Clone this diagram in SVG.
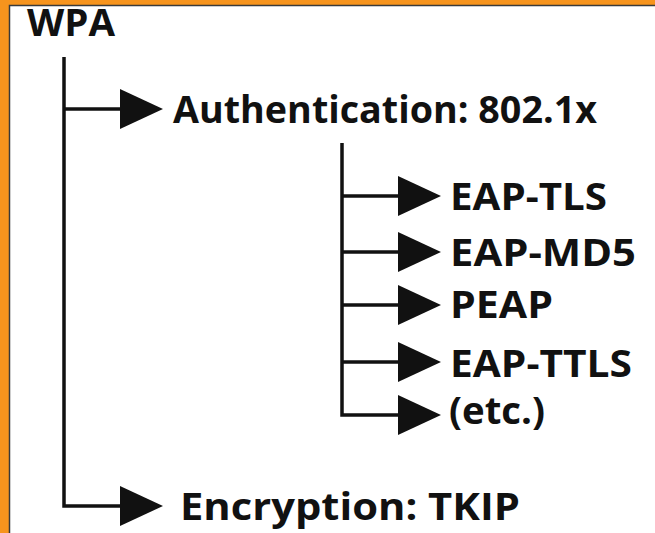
<svg xmlns="http://www.w3.org/2000/svg" width="655" height="533" viewBox="0 0 655 533">
  <defs>
    <style>
      .t { font-family: "Open Sans", "Noto Sans", "Liberation Sans", sans-serif; font-weight: bold; font-size: 38px; fill: #111; }
      .ln { stroke: #111; stroke-width: 3.5; fill: none; }
      .ah { fill: #111; }
    </style>
    <path id="arrowhead" class="ah" d="M0,-20 L43,0 L0,20 Z"/>
  </defs>
  <rect x="0" y="0" width="655" height="533" fill="#F7941D"/>
  <rect x="9.5" y="5.5" width="660" height="540" fill="#FFFFFF" stroke="#3a3a3a" stroke-width="1.5"/>

  <g id="connectors">
    <path class="ln" d="M64,57 V506 H122"/>
    <path class="ln" d="M64,109 H122"/>
    <path class="ln" d="M342,143 V415 H400"/>
    <path class="ln" d="M342,196 H400"/>
    <path class="ln" d="M342,252 H400"/>
    <path class="ln" d="M342,305 H400"/>
    <path class="ln" d="M342,362 H400"/>
    <use href="#arrowhead" x="120" y="109"/>
    <use href="#arrowhead" x="120" y="506"/>
    <use href="#arrowhead" x="398" y="196"/>
    <use href="#arrowhead" x="398" y="252"/>
    <use href="#arrowhead" x="398" y="305"/>
    <use href="#arrowhead" x="398" y="362"/>
    <use href="#arrowhead" x="398" y="415"/>
  </g>

  <g id="wpa"><text class="t" x="27" y="36" textLength="88" lengthAdjust="spacingAndGlyphs">WPA</text></g>
  <g id="authentication"><text class="t" x="173" y="123" textLength="424" lengthAdjust="spacingAndGlyphs">Authentication: 802.1x</text></g>
  <g id="eap-tls"><text class="t" x="450" y="210" textLength="157" lengthAdjust="spacingAndGlyphs">EAP-TLS</text></g>
  <g id="eap-md5"><text class="t" x="450" y="266" textLength="186" lengthAdjust="spacingAndGlyphs">EAP-MD5</text></g>
  <g id="peap"><text class="t" x="450" y="318" textLength="103" lengthAdjust="spacingAndGlyphs">PEAP</text></g>
  <g id="eap-ttls"><text class="t" x="450" y="377" textLength="182" lengthAdjust="spacingAndGlyphs">EAP-TTLS</text></g>
  <g id="etc"><text class="t" x="449" y="424" textLength="96" lengthAdjust="spacingAndGlyphs">(etc.)</text></g>
  <g id="encryption"><text class="t" x="180" y="520" textLength="340" lengthAdjust="spacingAndGlyphs">Encryption: TKIP</text></g>
</svg>
